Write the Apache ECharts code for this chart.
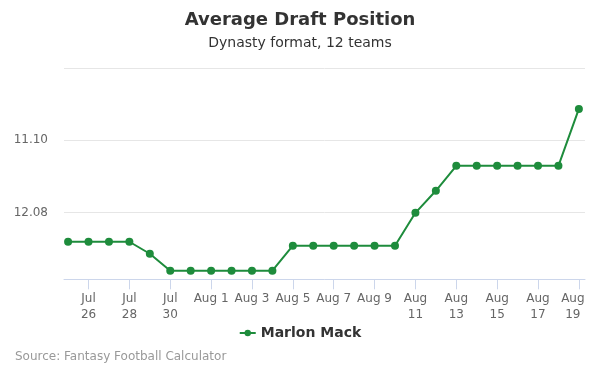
<!DOCTYPE html>
<html>
<head>
<meta charset="utf-8">
<script src="https://cdn.jsdelivr.net/npm/echarts@6/dist/echarts.min.js"></script>
<style>
html,body{margin:0;padding:0;background:#fff;}
#chart{width:600px;height:375px;}
</style>
</head>
<body>
<div id="chart"></div>
<script>
var dates = ["Jul 25","Jul 26","Jul 27","Jul 28","Jul 29","Jul 30","Jul 31","Aug 1","Aug 2","Aug 3","Aug 4","Aug 5","Aug 6","Aug 7","Aug 8","Aug 9","Aug 10","Aug 11","Aug 12","Aug 13","Aug 14","Aug 15","Aug 16","Aug 17","Aug 18","Aug 19"];
var adpValues = [144.07,144.07,144.07,144.07,145.73,148.08,148.08,148.08,148.08,148.08,148.08,144.62,144.62,144.62,144.62,144.62,144.62,140.06,137.01,133.55,133.55,133.55,133.55,133.55,133.55,125.67];
var tickIndexes = [1,3,5,7,9,11,13,15,17,19,21,23,25];
var tickLabels = ["Jul\n26","Jul\n28","Jul\n30","Aug 1","Aug 3","Aug 5","Aug 7","Aug 9","Aug\n11","Aug\n13","Aug\n15","Aug\n17","Aug\n19"];
var yTickValues = [130, 140];
var yTickLabels = ["11.10", "12.08"];
var seriesName = "Marlon Mack";

var font = "DejaVu Sans";
var chart = echarts.init(document.getElementById('chart'), null, {renderer: 'canvas'});
var data = adpValues.map(function (v, i) { return [i, v]; });
chart.setOption({
  animation: false,
  textStyle: {fontFamily: font},
  title: [{
    text: "Average Draft Position",
    left: 'center', top: 6,
    textStyle: {fontFamily: font, fontSize: 18, fontWeight: 'bold', color: '#333333'}
  }, {
    text: "Dynasty format, 12 teams",
    left: 'center', top: 31,
    textStyle: {fontFamily: font, fontSize: 14, fontWeight: 'normal', color: '#333333'}
  }, {
    text: "Source: Fantasy Football Calculator",
    left: 10, top: 346,
    textStyle: {fontFamily: font, fontSize: 12, fontWeight: 'normal', color: '#999999'}
  }],
  legend: {
    data: [seriesName],
    top: 321, left: 'center',
    itemWidth: 16, itemHeight: 8, itemGap: 10,
    textStyle: {fontFamily: font, fontSize: 14, fontWeight: 'bold', color: '#333333'}
  },
  grid: {left: 64, right: 15, top: 68, bottom: 95.7, containLabel: false},
  xAxis: {
    type: 'value',
    min: -0.2, max: 25.3,
    splitLine: {show: false},
    axisLine: {show: true, lineStyle: {color: '#ccd6eb'}},
    axisTick: {show: true, length: 10, lineStyle: {color: '#ccd6eb'}, customValues: tickIndexes},
    axisLabel: {
      customValues: tickIndexes,
      fontFamily: font, fontSize: 12, color: '#666666', lineHeight: 16, margin: 12,
      rich: {
        last: {fontFamily: font, fontSize: 12, color: '#666666', lineHeight: 16, padding: [0, 12, 0, 0]}
      },
      formatter: function (v) {
        var k = tickIndexes.indexOf(Math.round(v));
        if (k < 0) return '';
        if (k === tickIndexes.length - 1) {
          return tickLabels[k].split('\n').map(function (s) { return '{last|' + s + '}'; }).join('\n');
        }
        return tickLabels[k];
      }
    }
  },
  yAxis: {
    type: 'value',
    inverse: true,
    min: 120, max: 149.27,
    interval: 10,
    axisLine: {show: false},
    axisTick: {show: false},
    splitLine: {show: true, lineStyle: {color: '#e6e6e6', width: 1}},
    axisLabel: {
      fontFamily: font, fontSize: 12, color: '#666666', margin: 16,
      formatter: function (v) {
        var k = yTickValues.indexOf(Math.round(v * 100) / 100);
        return k >= 0 ? yTickLabels[k] : '';
      }
    }
  },
  series: [{
    name: seriesName,
    type: 'line',
    data: data,
    symbol: 'circle',
    symbolSize: 8,
    color: '#1e8c3c',
    lineStyle: {width: 2, color: '#1e8c3c'},
    itemStyle: {color: '#1e8c3c'}
  }]
});
</script>
</body>
</html>
